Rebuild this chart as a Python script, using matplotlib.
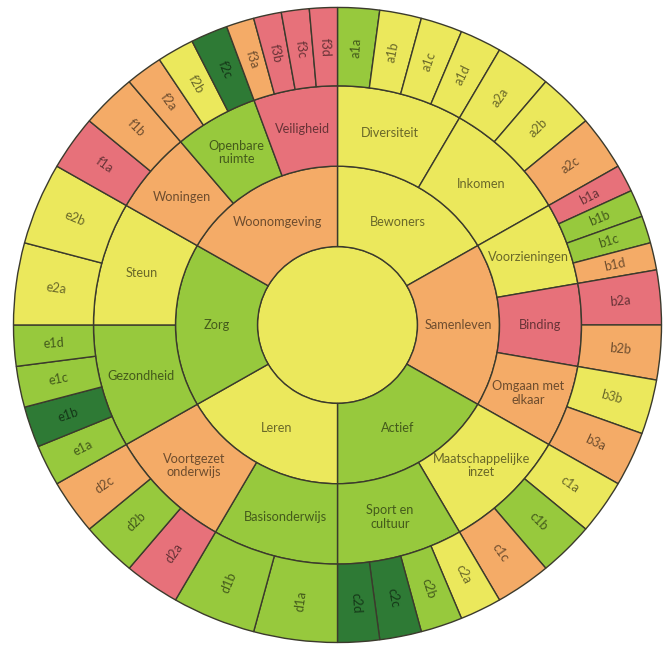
import matplotlib
matplotlib.use('Agg')
from matplotlib import pyplot as plt
from matplotlib.patches import Wedge, Circle
import numpy as np

# colour classes
Y = '#ebe85c'
O = '#f4ab67'
R = '#e7717a'
G = '#97c93d'
D = '#2e7a35'

center_color = Y

categories = ['Bewoners', 'Samenleven', 'Actief', 'Leren', 'Zorg', 'Woonomgeving']
cat_colors = [Y, O, G, Y, G, O]

sub_names = [
    ['Diversiteit', 'Inkomen'],
    ['Voorzieningen', 'Binding', 'Omgaan met\nelkaar'],
    ['Maatschappelijke\ninzet', 'Sport en\ncultuur'],
    ['Basisonderwijs', 'Voortgezet\nonderwijs'],
    ['Gezondheid', 'Steun'],
    ['Woningen', 'Openbare\nruimte', 'Veiligheid'],
]
sub_colors = [
    [Y, Y],
    [Y, R, O],
    [Y, G],
    [G, O],
    [G, Y],
    [O, G, R],
]

leaf_names = [
    [['a1a', 'a1b', 'a1c', 'a1d'], ['a2a', 'a2b', 'a2c']],
    [['b1a', 'b1b', 'b1c', 'b1d'], ['b2a', 'b2b'], ['b3b', 'b3a']],
    [['c1a', 'c1b', 'c1c'], ['c2a', 'c2b', 'c2c', 'c2d']],
    [['d1a', 'd1b'], ['d2a', 'd2b', 'd2c']],
    [['e1a', 'e1b', 'e1c', 'e1d'], ['e2a', 'e2b']],
    [['f1a', 'f1b'], ['f2a', 'f2b', 'f2c'], ['f3a', 'f3b', 'f3c', 'f3d']],
]
leaf_colors = [
    [[G, Y, Y, Y], [Y, Y, O]],
    [[R, G, G, O], [R, O], [Y, O]],
    [[Y, G, O], [Y, G, D, D]],
    [[G, G], [R, G, O]],
    [[G, D, G, G], [Y, Y]],
    [[R, O], [O, Y, D], [O, R, R, R]],
]

# ring radii (pixels)
r0, r1, r2, r3 = 80, 162, 244, 324
edge = '#3b3a2c'
txt = dict(color='black', alpha=0.55, family='Lato', fontsize=9.2,
           ha='center', va='center')

fig = plt.figure(figsize=(6.7, 6.46), dpi=100)
ax = fig.add_axes([0, 0, 1, 1])
ax.set_xlim(-337.5, 332.5)
ax.set_ylim(331.6 - 646 / 0.98, 331.6)
ax.axis('off')


def wedge(a0, a1, rin, rout, color):
    # a0, a1 measured clockwise from 12 o'clock
    ax.add_patch(Wedge((0, 0), rout, 90 - a1, 90 - a0, width=rout - rin,
                       facecolor=color, edgecolor=edge, lw=1.0))


def label(a, r, s, rotate=False, **kw):
    t = np.deg2rad(90 - a)
    rot = 0
    if rotate:
        rot = 90 - a
        if rot < -90:
            rot += 180
        elif rot > 90:
            rot -= 180
    ax.text(r * np.cos(t), r * np.sin(t), s, rotation=rot,
            rotation_mode='anchor', **{**txt, **kw})


ax.add_patch(Circle((0, 0), r0, facecolor=center_color, edgecolor=edge, lw=1.0))

span = 360 / len(categories)
for i, cat in enumerate(categories):
    c0 = i * span
    wedge(c0, c0 + span, r0, r1, cat_colors[i])
    label(c0 + span / 2, (r0 + r1) / 2, cat)
    sspan = span / len(sub_names[i])
    for j, sub in enumerate(sub_names[i]):
        s0 = c0 + j * sspan
        wedge(s0, s0 + sspan, r1, r2, sub_colors[i][j])
        label(s0 + sspan / 2, (r1 + r2) / 2, sub, linespacing=1.15)
        lspan = sspan / len(leaf_names[i][j])
        for k, leaf in enumerate(leaf_names[i][j]):
            l0 = s0 + k * lspan
            wedge(l0, l0 + lspan, r2, r3, leaf_colors[i][j][k])
            label(l0 + lspan / 2, (r2 + r3) / 2, leaf, rotate=True)

plt.savefig('out.png', dpi=100)
